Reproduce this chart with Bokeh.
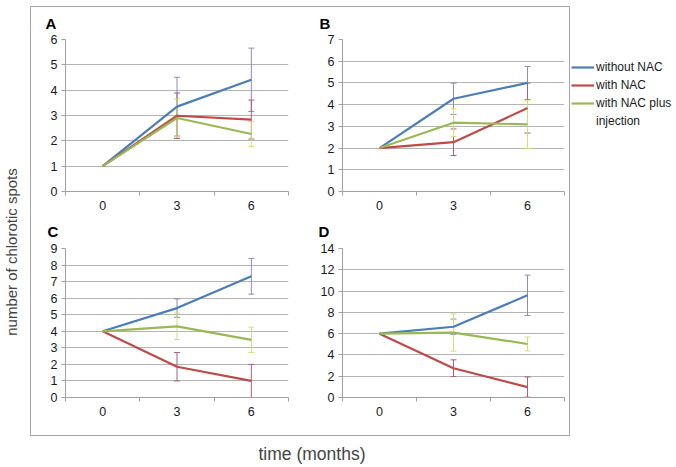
import numpy as np
from bokeh.plotting import figure
from bokeh.models import (ColumnDataSource, Whisker, TeeHead, FixedTicker, SingleIntervalTicker,
                          Range1d, Legend, LegendItem, Spacer)
from bokeh.layouts import row, column
from bokeh.embed import file_html
from bokeh.resources import INLINE

# ---------------- data ----------------
months = [0, 3, 6]
series_names = ["without NAC", "with NAC", "with NAC plus"]
legend_extra_line = "injection"

a_without = [1, 3.35, 4.41]
a_without_err = [0, 1.16, 1.25]
a_with = [1, 2.99, 2.84]
a_with_err = [0, 0.90, 0.77]
a_plus = [1, 2.90, 2.27]
a_plus_err = [0, 0.75, 0.49]

b_without = [2, 4.27, 5.0]
b_without_err = [0, 0.72, 0.76]
b_with = [2, 2.27, 3.84]
b_with_err = [0, 0.61, 1.15]
b_plus = [2, 3.17, 3.09]
b_plus_err = [0, 0.64, 1.11]

c_without = [4, 5.40, 7.32]
c_without_err = [0, 0.56, 1.08]
c_with = [4, 1.86, 1.0]
c_with_err = [0, 0.86, 1.0]
c_plus = [4, 4.30, 3.48]
c_plus_err = [0, 0.80, 0.77]

d_without = [6, 6.65, 9.6]
d_without_err = [0, 0.72, 1.9]
d_with = [6, 2.75, 0.98]
d_with_err = [0, 0.79, 0.95]
d_plus = [6, 6.10, 5.03]
d_plus_err = [0, 1.75, 0.65]

# ---------------- style ----------------
FONT = "Liberation Sans"
line_colors = ["#4A7EBB", "#BE4B48", "#98B954"]
err_colors = ["#8C8CB4", "#A8607E", "#D2DE78"]
GRID = "#B4B4B4"
AXIS = "#A0A0A0"
FRAME = "#A6A6A6"
TXT = "#1A1A1A"


def panel(letter, series, errs, ymax, ystep, width, height, bl, br, bt, bb,
          title_off, title_standoff):
    p = figure(width=width, height=height, min_border_left=bl, min_border_right=br,
               min_border_top=bt, min_border_bottom=bb,
               x_range=Range1d(-1.5, 7.5), y_range=Range1d(0, ymax),
               output_backend="svg", toolbar_location=None, title=letter)
    p.outline_line_color = None
    p.title.text_font = FONT
    p.title.text_font_style = "bold"
    p.title.text_font_size = "15px"
    p.title.align = "left"
    p.title.vertical_align = "top"
    p.title.offset = title_off
    p.title.standoff = title_standoff
    p.title.text_color = "black"

    # x axis (category style: labels at centres, ticks at boundaries)
    p.xaxis.ticker = FixedTicker(ticks=months, minor_ticks=[-1.5, 1.5, 4.5, 7.5])
    p.xaxis.major_tick_out = 0
    p.xaxis.major_tick_in = 0
    p.xaxis.minor_tick_out = 4
    p.xaxis.minor_tick_in = 0
    p.xaxis.minor_tick_line_color = AXIS
    p.xaxis.axis_line_color = AXIS
    p.xaxis.major_label_standoff = 5
    p.xgrid.visible = False

    p.yaxis.ticker = SingleIntervalTicker(interval=ystep)
    p.yaxis.minor_tick_line_color = None
    p.yaxis.major_tick_out = 4
    p.yaxis.major_tick_in = 0
    p.yaxis.major_tick_line_color = AXIS
    p.yaxis.axis_line_color = AXIS
    p.yaxis.major_label_standoff = 4
    p.ygrid.ticker = SingleIntervalTicker(interval=ystep)
    p.ygrid.grid_line_color = GRID

    for ax in (p.xaxis[0], p.yaxis[0]):
        ax.major_label_text_font = FONT
        ax.major_label_text_font_size = "12.5px"
        ax.major_label_text_color = TXT

    for vals, err, lc, ec in zip(series, errs, line_colors, err_colors):
        v = np.array(vals[1:], dtype=float)
        e = np.array(err[1:], dtype=float)
        esrc = ColumnDataSource(dict(x=months[1:], lower=v - e, upper=v + e))
        w = Whisker(base="x", lower="lower", upper="upper", source=esrc, dimension="height",
                    line_color=ec, line_width=1, level="underlay",
                    upper_head=TeeHead(size=6, line_color=ec, line_width=1),
                    lower_head=TeeHead(size=6, line_color=ec, line_width=1))
        p.add_layout(w)
    for vals, lc in zip(series, line_colors):
        src = ColumnDataSource(dict(x=months, y=vals))
        p.line("x", "y", source=src, line_color=lc, line_width=2.2, line_join="round")
    return p


pa = panel("A", [a_without, a_with, a_plus], [a_without_err, a_with_err, a_plus_err], 6, 1,
           285, 207, 34, 28, 32, 23, -20, 11)
pb = panel("B", [b_without, b_with, b_plus], [b_without_err, b_with_err, b_plus_err], 7, 1,
           253, 207, 26, 5, 32, 23, -23, 11)
pc = panel("C", [c_without, c_with, c_plus], [c_without_err, c_with_err, c_plus_err], 9, 1,
           285, 221, 34, 28, 34, 38, -18, 14)
pd = panel("D", [d_without, d_with, d_plus], [d_without_err, d_with_err, d_plus_err], 14, 2,
           253, 221, 26, 5, 34, 38, -24, 14)

framed = column(row(pa, pb, spacing=0), row(pc, pd, spacing=0), spacing=0,
                styles={"border": f"1px solid {FRAME}"})


def blank(width, height, **kw):
    f = figure(width=width, height=height, output_backend="svg", toolbar_location=None,
               x_range=Range1d(0, 1), y_range=Range1d(0, 1), **kw)
    f.axis.visible = False
    f.grid.visible = False
    f.outline_line_color = None
    return f


ylab = blank(30, 444, title="number of chlorotic spots", title_location="left", min_border=0)
ylab.title.align = "center"
ylab.title.text_font = FONT
ylab.title.text_font_size = "15px"
ylab.title.text_font_style = "normal"
ylab.title.standoff = 0

xlab = blank(540, 30, title="time (months)", title_location="above", min_border=0,
             min_border_top=27)
xlab.title.align = "left"
xlab.title.offset = 228
xlab.title.text_font = FONT
xlab.title.text_font_size = "17.5px"
xlab.title.text_font_style = "normal"
xlab.title.standoff = 0

leg = blank(105, 300, min_border=0, min_border_top=59, min_border_left=1)
items = []
for name, lc in zip(series_names, line_colors):
    r = leg.line(x=[np.nan], y=[np.nan], line_color=lc, line_width=2.2)
    items.append(LegendItem(label=name, renderers=[r]))
r_blank = leg.line(x=[np.nan], y=[np.nan], line_color=line_colors[2], line_alpha=0)
items.append(LegendItem(label=legend_extra_line, renderers=[r_blank]))
legend = Legend(items=items, location="top_left", margin=0, padding=4,
                glyph_width=23, glyph_height=16, label_height=16, spacing=2,
                label_standoff=2, label_text_font=FONT, label_text_font_size="12px",
                label_text_color=TXT, border_line_color=None, background_fill_alpha=0)
leg.add_layout(legend)

root = row(ylab, column(Spacer(width=540, height=6), framed, xlab, spacing=0), leg, spacing=0)

open("out.html", "w").write(file_html(root, INLINE))
